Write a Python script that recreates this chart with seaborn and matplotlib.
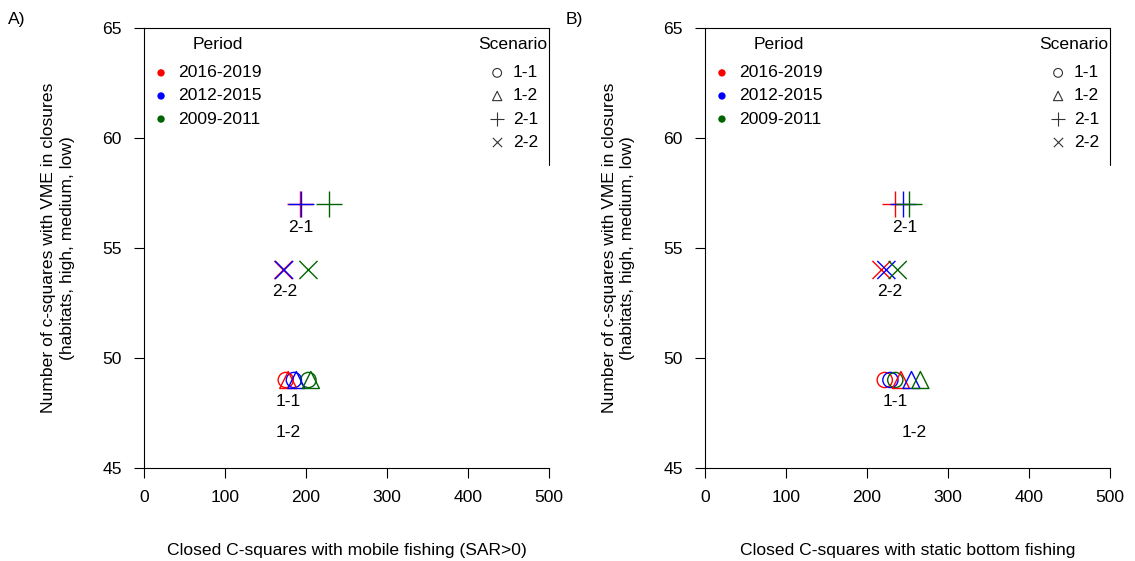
import numpy as np
import pandas as pd
import matplotlib
matplotlib.use("Agg")
import matplotlib.pyplot as plt
import seaborn as sns

# --- Data ---
periods = ["2016-2019", "2012-2015", "2009-2011"]
scenarios = ["1-1", "1-2", "2-1", "2-2"]
vme_counts = [49, 49, 57, 54]  # y value per scenario

# panel A: closed c-squares with mobile fishing (SAR>0), rows = period, cols = scenario
mobile = [
    [175, 178, 192, 172],   # 2016-2019
    [185, 188, 194, 173],   # 2012-2015
    [203, 206, 228, 203],   # 2009-2011
]
# panel B: closed c-squares with static bottom fishing
static = [
    [222, 242, 235, 218],
    [229, 255, 244, 224],
    [235, 266, 252, 238],
]

# scenario labels under the markers (x, y)
labels_a = {"2-1": (194, 55.95), "2-2": (174, 53.0), "1-1": (178, 48.0), "1-2": (178, 46.6)}
labels_b = {"2-1": (247, 55.95), "2-2": (228, 53.0), "1-1": (235, 48.0), "1-2": (259, 46.6)}

palette = {"2016-2019": "#ff0000", "2012-2015": "#0000ff", "2009-2011": "#006400"}
markers = {"1-1": "o", "1-2": "^", "2-1": "+", "2-2": "x"}
msizes = {"1-1": 120, "1-2": 150, "2-1": 350, "2-2": 170}


def to_long(vals):
    rows = []
    for p, row in zip(periods, vals):
        for s, v, y in zip(scenarios, row, vme_counts):
            rows.append({"period": p, "scenario": s, "x": v, "y": y})
    return pd.DataFrame(rows)


df_a = to_long(mobile)
df_b = to_long(static)

sns.set_style("ticks")
plt.rcParams["font.family"] = ["Liberation Sans", "DejaVu Sans"]
plt.rcParams["text.color"] = "black"
plt.rcParams["axes.labelcolor"] = "black"
FS = 12.6

fig = plt.figure(figsize=(11.35, 5.61), dpi=100)
ax_a = fig.add_axes([0.1269, 0.1658, 0.3568, 0.7843])
ax_b = fig.add_axes([0.6211, 0.1658, 0.3568, 0.7843])


def draw_panel(ax, df, labels, xlabel, tag):
    for s in scenarios:
        sub = df[df["scenario"] == s]
        sns.scatterplot(data=sub, x="x", y="y", hue="period", palette=palette,
                        marker=markers[s], s=msizes[s], legend=False, ax=ax)
        coll = ax.collections[-1]
        cols = [palette[p] for p in sub["period"]]
        coll.set_edgecolors(cols)
        coll.set_facecolors("none")
        coll.set_linewidths(1.0)
    for s, (lx, ly) in labels.items():
        ax.text(lx, ly, s, ha="center", va="center", fontsize=FS)

    ax.set_xlim(0, 500)
    ax.set_ylim(45, 65)
    ax.set_xticks(range(0, 501, 100))
    ax.set_yticks(range(45, 66, 5))
    ax.tick_params(labelsize=FS, length=7, width=0.8, pad=9, colors="black")
    ax.set_xlabel(xlabel, fontsize=FS, labelpad=27)
    ax.set_ylabel("Number of c-squares with VME in closures\n(habitats, high, medium, low)",
                  fontsize=FS, labelpad=20, linespacing=1.3)
    for side in ["left", "bottom", "top"]:
        ax.spines[side].set_visible(True)
        ax.spines[side].set_linewidth(0.8)
        ax.spines[side].set_color("black")
    ax.spines["right"].set_visible(False)
    # right edge of the legend box
    ax.plot([1, 1], [1, 0.688], transform=ax.transAxes, color="black", lw=0.8, clip_on=False)

    # Period legend
    ax.text(0.183, 0.962, "Period", transform=ax.transAxes, ha="center", va="center", fontsize=FS)
    for i, p in enumerate(periods):
        yy = 0.898 - i * 0.0525
        ax.scatter([0.042], [yy], transform=ax.transAxes, s=28, color=palette[p],
                   edgecolors="none", clip_on=False)
        ax.text(0.084, yy, p, transform=ax.transAxes, ha="left", va="center", fontsize=FS)
    # Scenario legend
    ax.text(0.995, 0.962, "Scenario", transform=ax.transAxes, ha="right", va="center", fontsize=FS)
    leg_ms = {"1-1": 40, "1-2": 45, "2-1": 90, "2-2": 45}
    for i, s in enumerate(scenarios):
        yy = 0.898 - i * 0.0525
        if s in ("1-1", "1-2"):
            ax.scatter([0.872], [yy], transform=ax.transAxes, s=leg_ms[s], marker=markers[s],
                       facecolors="none", edgecolors="#333333", linewidths=0.8, clip_on=False)
        else:
            ax.scatter([0.872], [yy], transform=ax.transAxes, s=leg_ms[s], marker=markers[s],
                       color="#333333", linewidths=0.8, clip_on=False)
        ax.text(0.911, yy, s, transform=ax.transAxes, ha="left", va="center", fontsize=FS)

    ax.text(tag[1], 1.02, tag[0], transform=ax.transAxes, ha="left", va="center", fontsize=FS)


draw_panel(ax_a, df_a, labels_a, "Closed C-squares with mobile fishing (SAR>0)", ("A)", -0.335))
draw_panel(ax_b, df_b, labels_b, "Closed C-squares with static bottom fishing", ("B)", -0.345))

fig.savefig("out.png", dpi=100)
